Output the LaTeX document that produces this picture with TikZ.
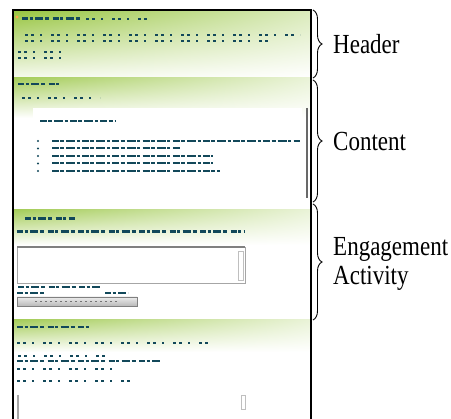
\documentclass[tikz,border=0pt]{standalone}
\usepackage{fontspec}
\setmainfont{Liberation Serif}
\usetikzlibrary{positioning, decorations.pathreplacing, shadings}
\definecolor{pagegreen}{RGB}{150,196,62}
\definecolor{inkteal}{RGB}{18,72,90}
\definecolor{bargray}{RGB}{105,105,105}
\newcommand{\tallbox}[1]{\scalebox{1}[1.2]{#1}}

\begin{document}
\begin{tikzpicture}[x=1pt, y=-1pt,
    band/.style={upper left=pagegreen!85, upper right=pagegreen!20, lower left=white, lower right=white},
    ink/.style={inkteal, line width=2.4pt, dash pattern=on 6pt off 1.5pt on 3pt off 2.5pt on 8pt off 2pt on 4pt off 3.5pt},
    inkbold/.style={ink, line width=3pt},
    inkthin/.style={ink, line width=2pt, dash pattern=on 7pt off 1.2pt on 4pt off 2pt on 9pt off 1.5pt on 3pt off 2.5pt},
    inkdots/.style={inkteal, line width=1.8pt, dash pattern=on 2.5pt off 3.5pt on 3pt off 6pt on 2pt off 9pt},
    brace/.style={decorate, decoration={brace, amplitude=9pt}, line width=0.9pt},
    lbl/.style={anchor=west, align=left, inner sep=0pt, font=\fontsize{23}{24}\selectfont}
]
\useasboundingbox (0,0) rectangle (451,419);

% page background and section bands
\fill[white] (13,10) rectangle (311,419);
\shade[upper left=pagegreen, upper right=pagegreen!35, lower left=pagegreen!8, lower right=white] (13,10) rectangle (311,78);
\shade[band] (13,78) rectangle (311,118);
\shade[band] (13,210) rectangle (311,245);
\shade[band] (13,320) rectangle (311,352);

% header
\fill[orange!70] (17,17) circle (1.6);
\draw[inkbold] (22,19) -- (82,19);
\draw[inkdots] (86,19) -- (150,19);
\draw[inkdots] (25,35) -- (300,35);
\draw[inkdots] (25,41) -- (270,41);
\draw[inkdots] (18,52) -- (62,52);
\draw[inkdots] (18,58) -- (66,58);

% content
\draw[ink] (18,84) -- (60,84);
\draw[inkdots] (22,98) -- (100,98);
\fill[white] (33,108) rectangle (302,205);
\draw[inkthin] (40,121) -- (115,121);
\foreach \i/\w in {0/300, 1/180, 2/213, 3/213, 4/220}
{
    \fill[inkteal] (38,{141+7.5*\i}) circle (1.2);
    \draw[inkthin] (52,{141+7.5*\i}) -- (\w,{141+7.5*\i});
}
\draw[bargray, line width=2pt] (307,108) -- (307,198);

% engagement activity
\draw[inkbold] (25,219) -- (75,219);
\draw[inkbold] (17,232) -- (245,232);
\draw[gray!70, line width=0.8pt] (17,247) rectangle (245,283);
\draw[gray, line width=1.6pt] (17,247) -- (245,247);
\draw[gray!50, line width=0.6pt] (238,251) rectangle (243,280);
\draw[ink] (18,287) -- (100,287);
\draw[ink] (17,293) -- (45,293);
\draw[ink] (105,293) -- (128,293);
\shade[top color=gray!15, bottom color=gray!55, draw=gray] (17,297) rectangle (137,306);
\draw[gray!90!black, line width=1pt, dash pattern=on 2pt off 3pt] (35,301.5) -- (118,301.5);

% last section
\draw[ink] (17,327) -- (90,327);
\draw[inkdots] (17,343) -- (210,343);
\draw[inkdots] (18,356) -- (110,356);
\draw[ink] (17,361) -- (160,361);
\draw[inkdots] (17,369) -- (120,369);
\draw[inkdots] (17,381) -- (135,381);
\draw[gray!70, line width=1.4pt] (18,395) -- (18,419);
\draw[gray!50, line width=0.6pt] (241,395) rectangle (245,409);

% frame
\draw[line width=1.3pt] (13,419) -- (13,10) -- (311,10) -- (311,419);

% braces and labels
\coordinate (hdtop) at (313,10);
\coordinate (hdbot) at (313,78);
\coordinate (cttop) at (313,80);
\coordinate (ctbot) at (313,202);
\coordinate (egtop) at (313,204);
\coordinate (egbot) at (313,320);
\draw[brace] (hdtop) -- (hdbot);
\draw[brace] (cttop) -- (ctbot);
\draw[brace] (egtop) -- (egbot);
\node[lbl] (header) at (333,44) {\tallbox{Header}};
\node[lbl] (content) at (333,142) {\tallbox{Content}};
\node[lbl] (engage) at (333,264) {\tallbox{\begin{tabular}{@{}l@{}}Engagement\\Activity\end{tabular}}};

\end{tikzpicture}
\end{document}
